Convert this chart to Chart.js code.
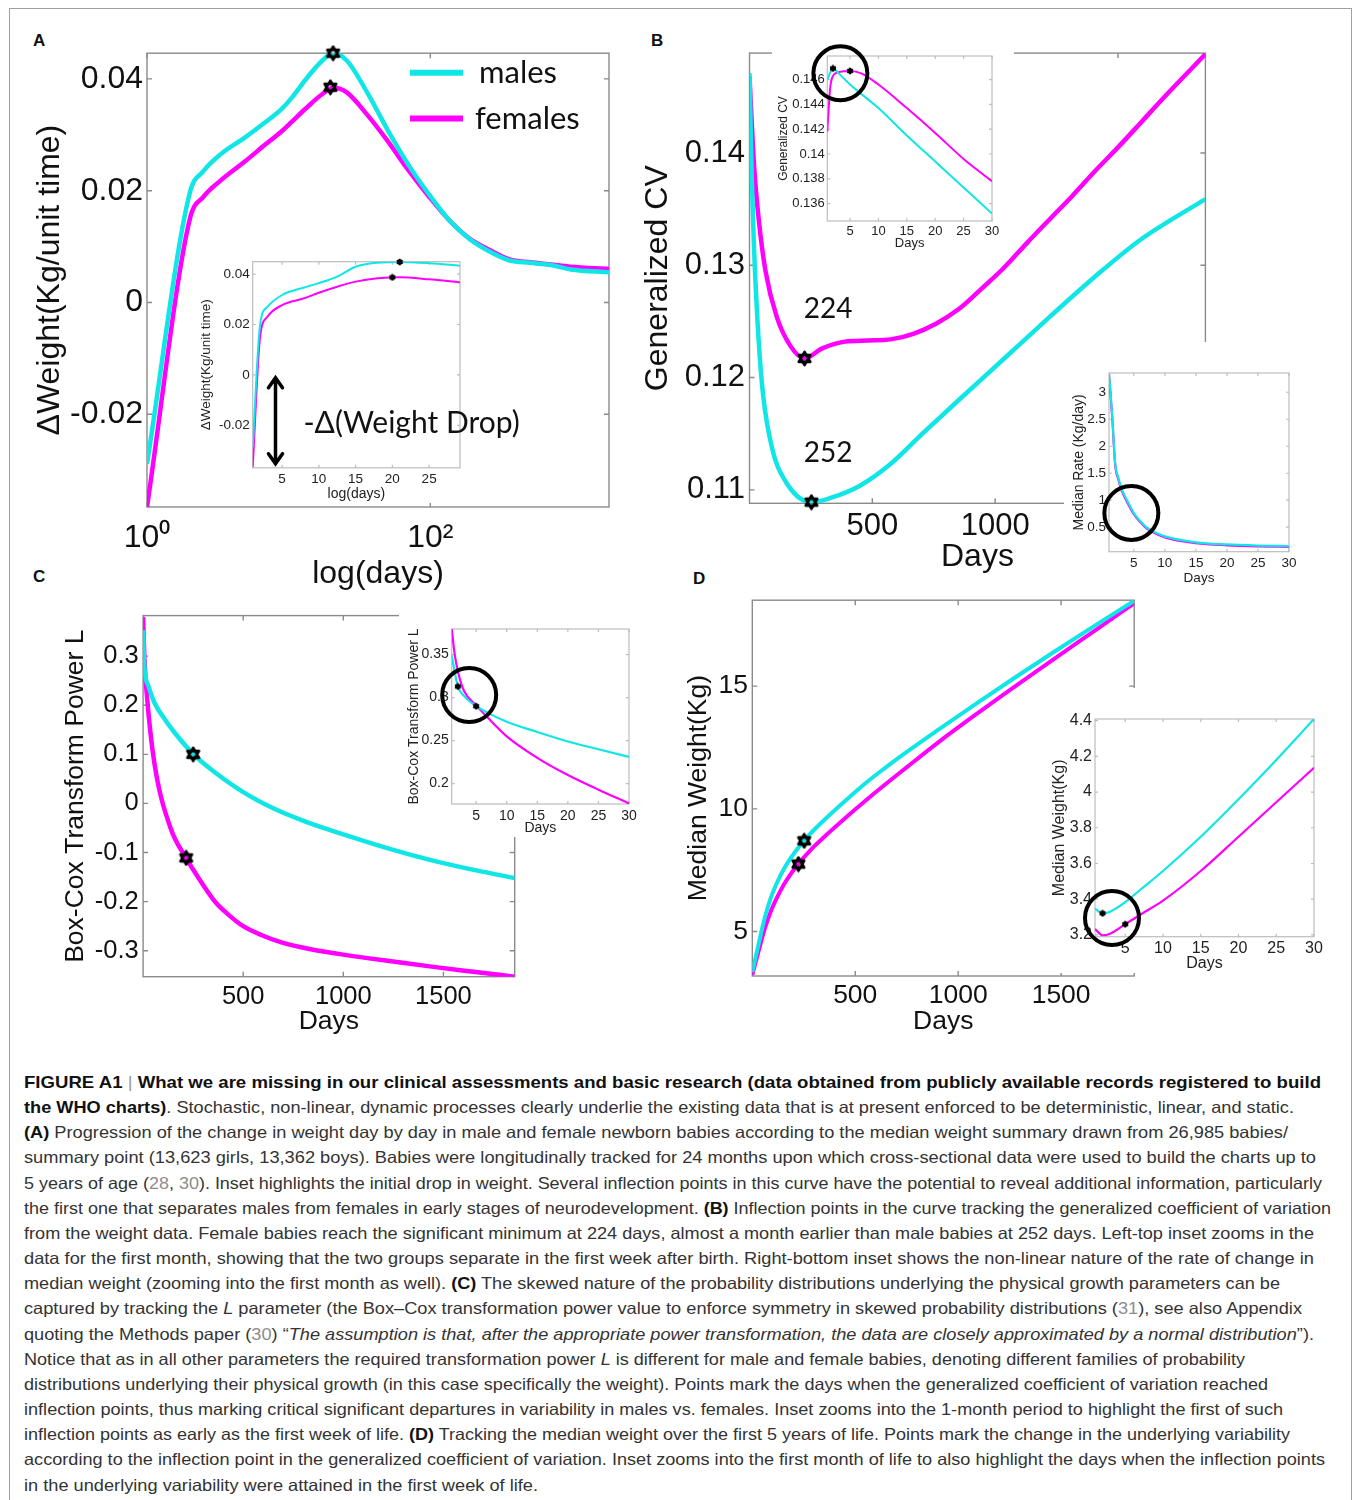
<!DOCTYPE html>
<html>
<head>
<meta charset="utf-8">
<script src="https://cdn.jsdelivr.net/npm/chart.js@4/dist/chart.umd.min.js"></script>
<style>
body{margin:0;background:#fff;width:1355px;height:1500px;position:relative;overflow:hidden}
canvas{position:absolute}
.moldura{position:absolute;left:9px;top:8px;width:1343px;height:1520px;border:1px solid #a0a0a0;box-sizing:border-box}
.letra{position:absolute;font:bold 17px "Liberation Sans",Arial,sans-serif;line-height:17px;color:#111}
#legenda{position:absolute;left:24px;top:1070px;font-family:"Liberation Sans Narrow","Liberation Sans",Arial,sans-serif;font-size:16.5px;line-height:25.15px;color:#333}
#legenda div{white-space:nowrap;transform-origin:0 0;width:max-content}
#legenda b{color:#111}
#legenda .ref{color:#8d8d8d}
#legenda .barra{color:#999}
</style>
</head>
<body>
<div class="moldura"></div>
<div class="letra" style="left:33px;top:32px">A</div>
<div class="letra" style="left:651px;top:32px">B</div>
<div class="letra" style="left:33px;top:568px">C</div>
<div class="letra" style="left:693px;top:570px">D</div>

<div id="legenda">
<div><b>FIGURE A1</b> <span class="barra">|</span> <b>What we are missing in our clinical assessments and basic research (data obtained from publicly available records registered to build</b></div>
<div><b>the WHO charts)</b>. Stochastic, non-linear, dynamic processes clearly underlie the existing data that is at present enforced to be deterministic, linear, and static.</div>
<div><b>(A)</b> Progression of the change in weight day by day in male and female newborn babies according to the median weight summary drawn from 26,985 babies/</div>
<div>summary point (13,623 girls, 13,362 boys). Babies were longitudinally tracked for 24 months upon which cross-sectional data were used to build the charts up to</div>
<div>5 years of age (<span class="ref">28</span>, <span class="ref">30</span>). Inset highlights the initial drop in weight. Several inflection points in this curve have the potential to reveal additional information, particularly</div>
<div>the first one that separates males from females in early stages of neurodevelopment. <b>(B)</b> Inflection points in the curve tracking the generalized coefficient of variation</div>
<div>from the weight data. Female babies reach the significant minimum at 224 days, almost a month earlier than male babies at 252 days. Left-top inset zooms in the</div>
<div>data for the first month, showing that the two groups separate in the first week after birth. Right-bottom inset shows the non-linear nature of the rate of change in</div>
<div>median weight (zooming into the first month as well). <b>(C)</b> The skewed nature of the probability distributions underlying the physical growth parameters can be</div>
<div>captured by tracking the <i>L</i> parameter (the Box–Cox transformation power value to enforce symmetry in skewed probability distributions (<span class="ref">31</span>), see also Appendix</div>
<div>quoting the Methods paper (<span class="ref">30</span>) “<i>The assumption is that, after the appropriate power transformation, the data are closely approximated by a normal distribution</i>”).</div>
<div>Notice that as in all other parameters the required transformation power <i>L</i> is different for male and female babies, denoting different families of probability</div>
<div>distributions underlying their physical growth (in this case specifically the weight). Points mark the days when the generalized coefficient of variation reached</div>
<div>inflection points, thus marking critical significant departures in variability in males vs. females. Inset zooms into the 1-month period to highlight the first of such</div>
<div>inflection points as early as the first week of life. <b>(D)</b> Tracking the median weight over the first 5 years of life. Points mark the change in the underlying variability</div>
<div>according to the inflection point in the generalized coefficient of variation. Inset zooms into the first month of life to also highlight the days when the inflection points</div>
<div>in the underlying variability were attained in the first week of life.</div>
</div>

<script>
let ciano = "#10e6e6"
let magenta = "#ff00ff"

// A: variacao de peso (escala log)
let aDias = [1, 2, 2.5, 3.3, 4.9, 6.8, 8.9, 10.5, 13.2, 17.3, 20.6, 25.7, 35.8, 49.9, 69.4, 96.8, 135, 188, 262, 363, 507, 708, 980, 1826]
let aMeninos = [-0.0289, 0.0195, 0.0235, 0.0265, 0.0295, 0.0322, 0.0346, 0.0366, 0.0399, 0.0433, 0.0446, 0.0433, 0.0376, 0.0309, 0.0248, 0.0195, 0.0148, 0.0114, 0.0091, 0.0075, 0.0071, 0.0067, 0.0059, 0.0054]
let aMeninas = [-0.0366, 0.0148, 0.0189, 0.0218, 0.0252, 0.0282, 0.0306, 0.0323, 0.0347, 0.0373, 0.0384, 0.0376, 0.0336, 0.0289, 0.0238, 0.0191, 0.0148, 0.0115, 0.0094, 0.0077, 0.0072, 0.0068, 0.0064, 0.006]
let aPicos = [{x: 20.6, y: 0.0446}, {x: 19.7, y: 0.0385}]
let aTicksX = [1, 100]
let aRotulosX = ["10⁰", "10²"]
let aTicksY = [-0.02, 0, 0.02, 0.04]

let aiDias = [1, 2, 3, 5, 8, 10, 12.5, 15, 18, 21, 25, 29.2]
let aiMeninos = [-0.0286, 0.0198, 0.027, 0.0317, 0.0347, 0.0364, 0.039, 0.0429, 0.0445, 0.0448, 0.0443, 0.0433]
let aiMeninas = [-0.0366, 0.0149, 0.0231, 0.0277, 0.0304, 0.0326, 0.035, 0.037, 0.0383, 0.0387, 0.0379, 0.0367]
let aiPicos = [{x: 21, y: 0.0448}, {x: 20, y: 0.0387}]
let aiTicksX = [5, 10, 15, 20, 25]
let aiTicksY = [-0.02, 0, 0.02, 0.04]

// B: CV generalizado
let bDiasM = [0, 9, 18.5, 37, 55.6, 92, 148, 252, 333, 444, 574, 704, 852, 1037, 1222, 1407, 1593, 1856]
let bMeninos = [0.1471, 0.1379, 0.1315, 0.1234, 0.1184, 0.1137, 0.1107, 0.1089, 0.1093, 0.1103, 0.1123, 0.115, 0.118, 0.1217, 0.1254, 0.129, 0.1323, 0.1359]
let bDiasF = [0, 18.5, 37, 65, 111, 167, 224, 296, 389, 481, 574, 667, 759, 852, 944, 1037, 1130, 1222, 1315, 1407, 1500, 1593, 1685, 1856]
let bMeninas = [0.1468, 0.1389, 0.1342, 0.1295, 0.1254, 0.1228, 0.1217, 0.1226, 0.1232, 0.1233, 0.1234, 0.1239, 0.1248, 0.1261, 0.1279, 0.1298, 0.132, 0.1341, 0.1362, 0.1384, 0.1405, 0.1427, 0.1449, 0.1488]
let bMinimos = [{x: 252, y: 0.1089}, {x: 224, y: 0.1217}]
let bTicksX = [500, 1000, 1500]
let bTicksY = [0.11, 0.12, 0.13, 0.14]

let b1DiasM = [1, 2, 3, 5, 10, 15, 20, 25, 30]
let b1Meninos = [0.146, 0.1469, 0.1465, 0.1456, 0.1437, 0.1415, 0.1394, 0.1373, 0.1352]
let b1DiasF = [1, 1.5, 2, 3, 5, 7, 10, 15, 20, 25, 30]
let b1Meninas = [0.1418, 0.1453, 0.1463, 0.1466, 0.1467, 0.1465, 0.1456, 0.1437, 0.1417, 0.1396, 0.1378]
let b1Picos = [{x: 2, y: 0.1469}, {x: 5, y: 0.1467}]
let b1Circulo = [{x: 3.3, y: 0.1465}]
let b1TicksX = [5, 10, 15, 20, 25, 30]
let b1TicksY = [0.136, 0.138, 0.14, 0.142, 0.144, 0.146]

let b2Dias = [1, 1.5, 2, 2.5, 3, 4, 5, 6, 7, 8, 10, 15, 20, 25, 30]
let b2Meninos = [3.35, 2.6, 1.68, 1.42, 1.22, 0.98, 0.76, 0.62, 0.5, 0.43, 0.33, 0.22, 0.18, 0.16, 0.15]
let b2Meninas = [3.33, 2.57, 1.65, 1.39, 1.19, 0.95, 0.74, 0.6, 0.48, 0.41, 0.31, 0.205, 0.165, 0.145, 0.135]
let b2Circulo = [{x: 4.6, y: 0.765}]
let b2TicksX = [5, 10, 15, 20, 25, 30]
let b2TicksY = [0.5, 1, 1.5, 2, 2.5, 3]

// C: potencia L de Box-Cox
let cDiasM = [0, 6, 26, 58, 104, 150, 252, 350, 500, 650, 804, 1000, 1236, 1453, 1670, 1856]
let cMeninos = [0.353, 0.28, 0.24, 0.204, 0.174, 0.148, 0.1, 0.066, 0.023, -0.01, -0.036, -0.063, -0.093, -0.117, -0.137, -0.152]
let cDiasF = [0, 6, 20, 56, 137, 213, 290, 365, 430, 496, 590, 691, 850, 1017, 1250, 1451, 1650, 1856]
let cMeninas = [0.38, 0.3, 0.215, 0.083, -0.05, -0.11, -0.16, -0.203, -0.228, -0.249, -0.268, -0.283, -0.298, -0.309, -0.322, -0.333, -0.343, -0.353]
let cPontos = [{x: 250, y: 0.1}, {x: 215, y: -0.111}]
let cTicksX = [500, 1000, 1500]
let cTicksY = [-0.3, -0.2, -0.1, 0, 0.1, 0.2, 0.3]

let ciDias = [1, 1.5, 2, 3, 5, 7, 10, 15, 20, 25, 30]
let ciMeninos = [0.349, 0.33, 0.313, 0.302, 0.29, 0.282, 0.272, 0.26, 0.249, 0.24, 0.231]
let ciMeninas = [0.38, 0.35, 0.331, 0.308, 0.291, 0.276, 0.255, 0.23, 0.21, 0.193, 0.177]
let ciPicos = [{x: 2, y: 0.313}, {x: 5, y: 0.29}]
let ciCirculo = [{x: 3.86, y: 0.303}]
let ciTicksX = [5, 10, 15, 20, 25, 30]
let ciTicksY = [0.2, 0.25, 0.3, 0.35]

// D: peso mediano
let dDias = [0, 30, 61, 91, 122, 152, 183, 213, 244, 274, 304, 365, 456, 548, 639, 730, 913, 1095, 1278, 1461, 1643, 1856]
let dMeninos = [3.35, 4.47, 5.58, 6.4, 7.03, 7.53, 7.95, 8.3, 8.63, 8.92, 9.18, 9.67, 10.36, 11.03, 11.63, 12.2, 13.28, 14.33, 15.36, 16.37, 17.35, 18.48]
let dMeninas = [3.23, 4.19, 5.13, 5.85, 6.42, 6.9, 7.3, 7.64, 7.96, 8.24, 8.5, 8.98, 9.66, 10.32, 10.95, 11.56, 12.77, 13.9, 15.0, 16.08, 17.14, 18.38]
let dPontos = [{x: 252, y: 8.7}, {x: 224, y: 7.75}]
let dTicksX = [500, 1000, 1500]
let dTicksY = [5, 10, 15]

let diDias = [1, 2, 3, 5, 7, 10, 15, 20, 25, 30]
let diMeninos = [3.347, 3.321, 3.33, 3.383, 3.453, 3.558, 3.75, 3.96, 4.18, 4.409]
let diMeninas = [3.233, 3.198, 3.207, 3.26, 3.313, 3.392, 3.558, 3.75, 3.943, 4.136]
let diPicos = [{x: 2, y: 3.321}, {x: 5, y: 3.26}]
let diCirculo = [{x: 3.25, y: 3.295}]
let diTicksX = [5, 10, 15, 20, 25, 30]
let diTicksY = [3.2, 3.4, 3.6, 3.8, 4, 4.2, 4.4]

let fonte = "'Liberation Sans', Arial, sans-serif"
let fonteNota = "Lato, 'Open Sans', sans-serif"

function estrela(tam, lw) {
  let c = document.createElement("canvas")
  c.width = c.height = tam
  let g = c.getContext("2d")
  let r = tam / 2 - lw / 2 - 0.5
  g.strokeStyle = "#000"
  g.lineWidth = lw
  g.lineJoin = "round"
  for (let k = 0; k < 2; k++) {
    g.beginPath()
    for (let i = 0; i < 3; i++) {
      let ang = -Math.PI / 2 + k * Math.PI + i * 2 * Math.PI / 3
      let px = tam / 2 + r * Math.cos(ang), py = tam / 2 + r * Math.sin(ang)
      i ? g.lineTo(px, py) : g.moveTo(px, py)
    }
    g.closePath()
    g.stroke()
  }
  return c
}
let estrelaGrande = estrela(17, 2.6)
let estrelaPequena = estrela(8, 2)

let caixa = {
  id: "caixa",
  beforeDraw(chart, args, o) {
    if (o.papel) {
      let g = chart.ctx
      g.save()
      g.fillStyle = "#fff"
      g.fillRect(0, 0, o.papel, chart.height)
      g.restore()
    }
  },
  beforeDatasetsDraw(chart, args, o) {
    let g = chart.ctx, a = chart.chartArea, t = o.tick
    let sx = chart.scales.x, sy = chart.scales.y
    g.save()
    g.strokeStyle = o.cor
    g.lineWidth = o.lw
    g.strokeRect(a.left, a.top, a.right - a.left, a.bottom - a.top)
    g.beginPath()
    sx.ticks.forEach(k => {
      let p = sx.getPixelForValue(k.value)
      g.moveTo(p, a.bottom); g.lineTo(p, a.bottom - t)
      g.moveTo(p, a.top); g.lineTo(p, a.top + t)
    })
    sy.ticks.forEach(k => {
      let p = sy.getPixelForValue(k.value)
      g.moveTo(a.left, p); g.lineTo(a.left + t, p)
      g.moveTo(a.right, p); g.lineTo(a.right - t, p)
    })
    g.stroke()
    g.restore()
  }
}

let notas = {
  id: "notas",
  afterDatasetsDraw(chart, args, o) {
    let g = chart.ctx, sx = chart.scales.x, sy = chart.scales.y
    g.save()
    ;(o.legenda || []).forEach(l => {
      g.strokeStyle = l.cor
      g.lineWidth = 6
      g.beginPath(); g.moveTo(l.x0, l.y); g.lineTo(l.x1, l.y); g.stroke()
      g.fillStyle = "#111"
      g.font = l.fonte
      g.textAlign = "left"
      g.textBaseline = "middle"
      g.fillText(l.texto, l.tx, l.y)
    })
    ;(o.textos || []).forEach(t => {
      g.fillStyle = "#111"
      g.font = t.fonte
      g.textAlign = t.alinha || "center"
      g.textBaseline = "middle"
      g.fillText(t.texto, sx.getPixelForValue(t.x), sy.getPixelForValue(t.y))
    })
    if (o.seta) {
      let s = o.seta
      let x = sx.getPixelForValue(s.x), y1 = sy.getPixelForValue(s.y1), y2 = sy.getPixelForValue(s.y2)
      g.strokeStyle = "#000"
      g.lineWidth = 3.5
      g.lineCap = "round"
      g.beginPath()
      g.moveTo(x, y1 + 1); g.lineTo(x, y2 - 1)
      g.moveTo(x - 7, y1 + 10); g.lineTo(x, y1); g.lineTo(x + 7, y1 + 10)
      g.moveTo(x - 7, y2 - 10); g.lineTo(x, y2); g.lineTo(x + 7, y2 - 10)
      g.stroke()
    }
    g.restore()
  }
}

let linha = (xs, ys, cor, w, ordem) => ({
  data: xs.map((x, i) => ({x: x, y: ys[i]})),
  borderColor: cor, borderWidth: w, pointRadius: 0,
  cubicInterpolationMode: "monotone", order: ordem
})
let marcas = (pts, img) => ({data: pts, showLine: false, pointStyle: img, pointRadius: 8, order: 1, clip: false})
let circulo = (pts) => ({
  data: pts, showLine: false, pointStyle: "circle", pointRadius: 27,
  borderWidth: 4, borderColor: "#000", backgroundColor: "rgba(0,0,0,0)", order: 0, clip: false
})

function grafico(p) {
  let [cl, ct, cr, cb] = p.caixa
  let [pl, pt, pr, pb] = p.area
  let padL = p.padL || 0
  let c = document.createElement("canvas")
  c.width = Math.round(cr - cl)
  c.height = Math.round(cb - ct)
  c.style.left = cl + "px"
  c.style.top = ct + "px"
  c.style.zIndex = p.inset ? 3 : 1
  document.body.appendChild(c)
  let cor = p.inset ? "#222" : "#111"
  let eixo = (e, pos) => ({
    type: e.tipo || "linear",
    position: pos,
    min: e.min, max: e.max,
    grid: {display: false, drawTicks: false},
    border: {display: false},
    afterBuildTicks: s => { s.ticks = e.ticks.map(v => ({value: v})) },
    afterFit: s => { if (pos == "left") s.width = pl - cl - padL; else s.height = cb - pb },
    ticks: {
      autoSkip: false, maxRotation: 0, minRotation: 0, padding: e.pad, color: cor,
      font: {family: fonte, size: e.tam},
      callback: e.rotulos ? (v, i) => e.rotulos[i] : (v => String(v))
    },
    title: {display: true, text: e.titulo, padding: 0, color: cor, font: {family: fonte, size: e.tamTitulo}}
  })
  return new Chart(c, {
    type: "line",
    data: {datasets: p.series},
    options: {
      responsive: false, animation: false, events: [],
      layout: {padding: {left: padL, top: pt - ct, right: cr - pr, bottom: 0}},
      scales: {x: eixo(p.x, "bottom"), y: eixo(p.y, "left")},
      plugins: {
        legend: {display: false}, tooltip: {enabled: false},
        caixa: p.inset ? {cor: "#bdbdbd", lw: 1.2, tick: 3, papel: p.papel || c.width} : {cor: "#8a8a8a", lw: 1.4, tick: 5},
        notas: p.notas || {}
      }
    },
    plugins: [caixa, notas]
  })
}

// graficos principais
grafico({
  caixa: [31, 30, 622, 593], area: [147, 45, 609, 507],
  x: {tipo: "logarithmic", min: 1, max: 1826, ticks: aTicksX, rotulos: aRotulosX, pad: 12, tam: 32, titulo: "log(days)", tamTitulo: 32},
  y: {min: -0.0366, max: 0.0446, ticks: aTicksY, pad: 4, tam: 32, titulo: "ΔWeight(Kg/unit time)", tamTitulo: 32},
  series: [
    marcas(aPicos, estrelaGrande),
    linha(aDias, aMeninos, ciano, 4.5, 2),
    linha(aDias, aMeninas, magenta, 4.5, 3)
  ],
  notas: {legenda: [
    {cor: ciano, x0: 379, x1: 432, y: 42.7, tx: 448, texto: "males", fonte: "31px " + fonteNota},
    {cor: magenta, x0: 379, x1: 432, y: 88.6, tx: 444, texto: "females", fonte: "31px " + fonteNota}
  ]}
})

grafico({
  caixa: [639, 30, 1215, 576], area: [749.5, 46.7, 1205.4, 503.3],
  x: {min: 0, max: 1856, ticks: bTicksX, pad: 5, tam: 31, titulo: "Days", tamTitulo: 32},
  y: {min: 0.1088, max: 0.1489, ticks: bTicksY, pad: 4.5, tam: 31, titulo: "Generalized CV", tamTitulo: 32},
  series: [
    marcas(bMinimos, estrelaGrande),
    linha(bDiasM, bMeninos, ciano, 4.5, 2),
    linha(bDiasF, bMeninas, magenta, 4.5, 3)
  ],
  notas: {textos: [
    {texto: "224", x: 320, y: 0.1261, fonte: "28px " + fonteNota},
    {texto: "252", x: 320, y: 0.1133, fonte: "28px " + fonteNota}
  ]}
})

grafico({
  caixa: [60, 596, 527, 1038], area: [143.1, 605, 514.7, 976.7],
  x: {min: 0, max: 1856, ticks: cTicksX, pad: 5, tam: 25.5, titulo: "Days", tamTitulo: 26.5},
  y: {min: -0.353, max: 0.3826, ticks: cTicksY, pad: 4.3, tam: 25.5, titulo: "Box-Cox Transform Power L", tamTitulo: 26.5},
  series: [
    marcas(cPontos, estrelaGrande),
    linha(cDiasM, cMeninos, ciano, 4.5, 2),
    linha(cDiasF, cMeninas, magenta, 4.5, 3)
  ]
})

grafico({
  caixa: [683, 580, 1146, 1038], area: [752.3, 592.3, 1134.2, 976],
  x: {min: 0, max: 1855, ticks: dTicksX, pad: 4, tam: 26.5, titulo: "Days", tamTitulo: 26.5},
  y: {min: 3.19, max: 18.5, ticks: dTicksY, pad: 4.3, tam: 26.5, titulo: "Median Weight(Kg)", tamTitulo: 26.5},
  series: [
    marcas(dPontos, estrelaGrande),
    linha(dDias, dMeninos, ciano, 4, 2),
    linha(dDias, dMeninas, magenta, 4, 3)
  ]
})

// insets
grafico({
  inset: true, papel: 268,
  caixa: [198, 250, 530, 502.5], area: [252.7, 261.7, 460, 467.3],
  x: {min: 1, max: 29.2, ticks: aiTicksX, pad: 3, tam: 13.5, titulo: "log(days)", tamTitulo: 14},
  y: {min: -0.0368, max: 0.0449, ticks: aiTicksY, pad: 3, tam: 13.5, titulo: "ΔWeight(Kg/unit time)", tamTitulo: 13.5},
  series: [
    marcas(aiPicos, estrelaPequena),
    linha(aiDias, aiMeninos, ciano, 2, 2),
    linha(aiDias, aiMeninas, magenta, 2, 3)
  ],
  notas: {
    textos: [{texto: "-Δ(Weight Drop)", x: 7.9, y: -0.0192, alinha: "left", fonte: "30px " + fonteNota}],
    seta: {x: 4.1, y1: -0.0011, y2: -0.0352}
  }
})

grafico({
  inset: true, padL: 4, papel: 242,
  caixa: [772, 25, 1023, 252], area: [827.3, 37.7, 1010.7, 221.7],
  x: {min: 1, max: 30, ticks: b1TicksX, pad: 3, tam: 13, titulo: "Days", tamTitulo: 13},
  y: {min: 0.1346, max: 0.1479, ticks: b1TicksY, pad: 2.5, tam: 13, titulo: "Generalized CV", tamTitulo: 12},
  series: [
    circulo(b1Circulo),
    marcas(b1Picos, estrelaPequena),
    linha(b1DiasM, b1Meninos, ciano, 2, 2),
    linha(b1DiasF, b1Meninas, magenta, 2, 3)
  ]
})

grafico({
  inset: true, padL: 6.6,
  caixa: [1064, 342, 1320, 586], area: [1109, 351.7, 1308.3, 551.7],
  x: {min: 1, max: 30, ticks: b2TicksX, pad: 3, tam: 13.5, titulo: "Days", tamTitulo: 13.5},
  y: {min: 0.046, max: 3.357, ticks: b2TicksY, pad: 3, tam: 13.5, titulo: "Median Rate (Kg/day)", tamTitulo: 14},
  series: [
    circulo(b2Circulo),
    linha(b2Dias, b2Meninos, ciano, 2.2, 2),
    linha(b2Dias, b2Meninas, magenta, 2.2, 3)
  ]
})

grafico({
  inset: true, padL: 6.6,
  caixa: [399, 598, 660, 837], area: [451.7, 612.7, 646.7, 804],
  x: {min: 1, max: 30, ticks: ciTicksX, pad: 3.5, tam: 14, titulo: "Days", tamTitulo: 14},
  y: {min: 0.1763, max: 0.3798, ticks: ciTicksY, pad: 3, tam: 14, titulo: "Box-Cox Transform Power L", tamTitulo: 14},
  series: [
    circulo(ciCirculo),
    marcas(ciPicos, estrelaPequena),
    linha(ciDias, ciMeninos, ciano, 2.2, 2),
    linha(ciDias, ciMeninas, magenta, 2.2, 3)
  ]
})

grafico({
  inset: true, padL: 0.4,
  caixa: [1050, 688, 1345, 973], area: [1095, 705, 1327.3, 936.7],
  x: {min: 1, max: 30, ticks: diTicksX, pad: 2, tam: 16, titulo: "Days", tamTitulo: 16},
  y: {min: 3.19, max: 4.409, ticks: diTicksY, pad: 3, tam: 16, titulo: "Median Weight(Kg)", tamTitulo: 16},
  series: [
    circulo(diCirculo),
    marcas(diPicos, estrelaPequena),
    linha(diDias, diMeninos, ciano, 2.2, 2),
    linha(diDias, diMeninas, magenta, 2.2, 3)
  ]
})

// ajusta cada linha da legenda a sua largura no original
let fimLinhas = [1321, 1294, 1288, 1316, 1322, 1331, 1314, 1314, 1280, 1302, 1314, 1245, 1268, 1283, 1290, 1325, 538]
document.querySelectorAll("#legenda div").forEach((d, i) => {
  let w = d.getBoundingClientRect().width
  d.style.transform = "scaleX(" + ((fimLinhas[i] - 24) / w) + ")"
})
</script>
</body>
</html>
